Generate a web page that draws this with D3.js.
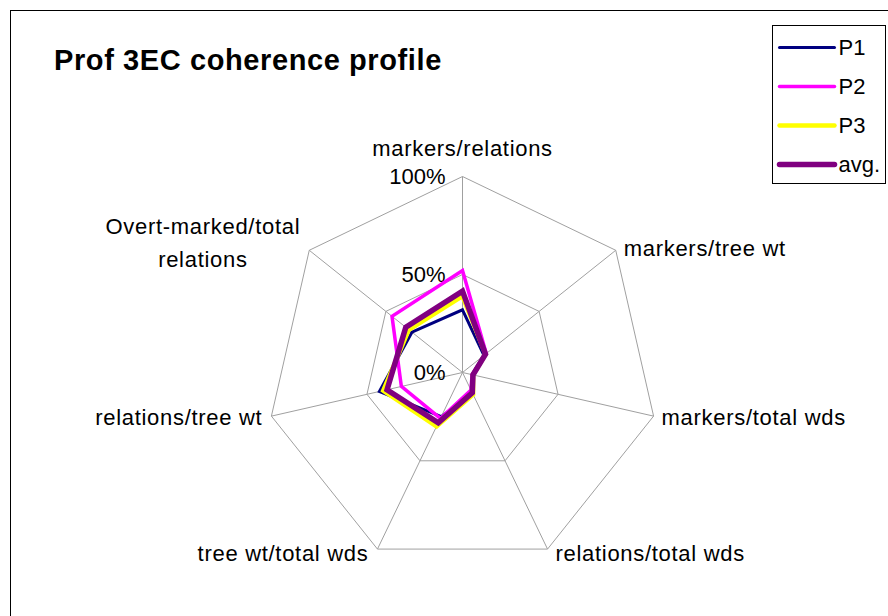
<!DOCTYPE html>
<html>
<head>
<meta charset="utf-8">
<script src="https://cdn.jsdelivr.net/npm/d3@7"></script>
<style>
    body { margin: 0; background: #fff; }
    svg { display: block; font-family: "Liberation Sans", Arial, sans-serif; }
</style>
</head>
<body>
<div id="chart"></div>
<script>
// axes, clockwise from the top
const categories = [
    'markers/relations',
    'markers/tree wt',
    'markers/total wds',
    'relations/total wds',
    'tree wt/total wds',
    'relations/tree wt',
    'Overt-marked/total relations'
];
const seriesNames = ['P1', 'P2', 'P3', 'avg.'];
const p1Values = [0.32, 0.14, 0.05, 0.12, 0.25, 0.435, 0.33];
const p2Values = [0.52, 0.155, 0.05, 0.10, 0.26, 0.32, 0.46];
const p3Values = [0.39, 0.15, 0.055, 0.125, 0.305, 0.415, 0.35];
const avgValues = [0.415, 0.15, 0.055, 0.115, 0.285, 0.395, 0.37];
const tickValues = [0, 0.5, 1];
const tickLabels = ['0%', '50%', '100%'];

const series = [
    { name: seriesNames[0], values: p1Values, color: '#000080', width: 3 },
    { name: seriesNames[1], values: p2Values, color: '#ff00ff', width: 3.5 },
    { name: seriesNames[2], values: p3Values, color: '#ffff00', width: 4.5 },
    { name: seriesNames[3], values: avgValues, color: '#800080', width: 5.5 }
];

const width = 888;
const height = 616;
const cx = 462.5;
const cy = 372.5;
const radius = 196;
const fontSize = 22;
const spacing = 0.7;

const svg = d3.select('#chart')
    .append('svg')
    .attr('width', width)
    .attr('height', height);

// chart frame
svg.append('rect')
    .attr('x', 10.5)
    .attr('y', 10.5)
    .attr('width', 900)
    .attr('height', 700)
    .attr('fill', '#fff')
    .attr('stroke', '#000');

svg.append('text')
    .attr('x', 54)
    .attr('y', 70)
    .attr('font-size', 29)
    .attr('font-weight', 'bold')
    .attr('letter-spacing', 0.6)
    .text('Prof 3EC coherence profile');

const r = d3.scaleLinear().domain([0, 1]).range([0, radius]);
const angle = d3.scaleLinear().domain([0, categories.length]).range([0, 2 * Math.PI]);

const g = svg.append('g').attr('transform', `translate(${cx},${cy})`);

const point = (i, v) => [Math.sin(angle(i)) * r(v), -Math.cos(angle(i)) * r(v)];

// grid rings
const ring = d3.lineRadial()
    .angle((d, i) => angle(i))
    .radius(d => r(d))
    .curve(d3.curveLinearClosed);

g.selectAll('.ring')
    .data(tickValues.filter(t => t > 0))
    .enter().append('path')
    .attr('class', 'ring')
    .attr('d', t => ring(categories.map(() => t)))
    .attr('fill', 'none')
    .attr('stroke', '#a0a0a0')
    .attr('stroke-width', 1);

g.selectAll('.spoke')
    .data(categories)
    .enter().append('line')
    .attr('class', 'spoke')
    .attr('x1', 0).attr('y1', 0)
    .attr('x2', (d, i) => point(i, 1)[0])
    .attr('y2', (d, i) => point(i, 1)[1])
    .attr('stroke', '#a0a0a0')
    .attr('stroke-width', 1);

// tick labels on the top axis
g.selectAll('.tick')
    .data(tickValues)
    .enter().append('text')
    .attr('class', 'tick')
    .attr('x', -17)
    .attr('y', t => -r(t))
    .attr('dy', '0.35em')
    .attr('text-anchor', 'end')
    .attr('font-size', fontSize)
    .text((t, i) => tickLabels[i]);

// category labels
categories.forEach((label, i) => {
    const [vx, vy] = point(i, 1);
    const s = Math.sin(angle(i));
    const c = Math.cos(angle(i));
    const text = g.append('text')
        .attr('font-size', fontSize)
        .attr('letter-spacing', spacing);
    if (Math.abs(s) < 0.1) {
        text.attr('text-anchor', 'middle')
            .attr('x', vx)
            .attr('y', vy - 21)
            .text(label);
        return;
    }
    const anchor = s > 0 ? 'start' : 'end';
    const lx = vx + (s > 0 ? 8 : -9);
    const ly = vy + 8 - c * 4;
    if (label.length > 22) {
        const cut = label.lastIndexOf(' ');
        const lines = [label.slice(0, cut), label.slice(cut + 1)];
        text.attr('text-anchor', 'end').attr('x', lx).attr('y', vy - 16).text(lines[0]);
        const w = text.node().getComputedTextLength();
        const mid = lx - w / 2;
        text.attr('text-anchor', 'middle').attr('x', mid);
        g.append('text')
            .attr('font-size', fontSize)
            .attr('letter-spacing', spacing)
            .attr('text-anchor', 'middle')
            .attr('x', mid)
            .attr('y', vy + 17)
            .text(lines[1]);
    } else {
        text.attr('text-anchor', anchor)
            .attr('x', lx)
            .attr('y', ly)
            .text(label);
    }
});

// series polygons
const line = d3.lineRadial()
    .angle((d, i) => angle(i))
    .radius(d => r(d))
    .curve(d3.curveLinearClosed);

g.selectAll('.series')
    .data(series)
    .enter().append('path')
    .attr('class', 'series')
    .attr('d', d => line(d.values))
    .attr('fill', 'none')
    .attr('stroke', d => d.color)
    .attr('stroke-width', d => d.width)
    .attr('stroke-linejoin', 'miter');

// legend
const legend = svg.append('g').attr('transform', 'translate(772.5,25.5)');
legend.append('rect')
    .attr('width', 113)
    .attr('height', 158)
    .attr('fill', '#fff')
    .attr('stroke', '#000');

const item = legend.selectAll('.legend')
    .data(series)
    .enter().append('g')
    .attr('class', 'legend')
    .attr('transform', (d, i) => `translate(0,${22 + i * 39})`);

item.append('line')
    .attr('x1', 7).attr('x2', 62)
    .attr('stroke', d => d.color)
    .attr('stroke-width', d => d.width)
    .attr('stroke-linecap', 'round');

item.append('text')
    .attr('x', 66)
    .attr('dy', '0.35em')
    .attr('font-size', fontSize)
    .text(d => d.name);
</script>
</body>
</html>
